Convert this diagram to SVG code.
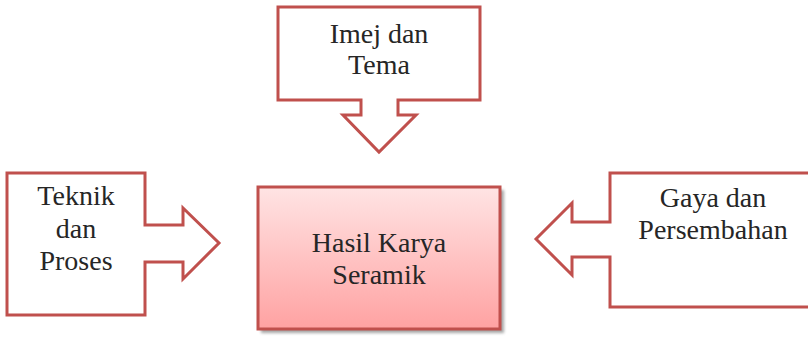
<svg xmlns="http://www.w3.org/2000/svg" width="808" height="339" viewBox="0 0 808 339">
  <style>
    .callout { fill: #ffffff; stroke: #c0504d; stroke-width: 3; stroke-linejoin: miter; }
    .lbl { font-family: "Liberation Serif", "Times New Roman", serif; font-size: 28px; fill: #262626; text-anchor: middle; }
  </style>
  <defs>
    <linearGradient id="redGrad" x1="0" y1="0" x2="0" y2="1">
      <stop offset="0" stop-color="#ffe4e4"/>
      <stop offset="1" stop-color="#ffa2a2"/>
    </linearGradient>
    <filter id="shadow" x="-10%" y="-10%" width="120%" height="120%">
      <feGaussianBlur stdDeviation="1.5"/>
    </filter>
  </defs>
  <rect width="808" height="339" fill="#ffffff"/>

  <g id="imej-dan-tema">
    <path class="callout" d="M278,7 H480 V100 H398 V115 H416 L379,152 L343,115 H361 V100 H278 Z"/>
    <text class="lbl" x="379" y="43">Imej dan</text>
    <text class="lbl" x="379" y="74">Tema</text>
  </g>

  <g id="teknik-dan-proses">
    <path class="callout" d="M7,173 H145 V225 H183 V208 L219,243 L183,279 V262 H145 V315 H7 Z"/>
    <text class="lbl" x="76" y="205">Teknik</text>
    <text class="lbl" x="76" y="238">dan</text>
    <text class="lbl" x="76" y="270">Proses</text>
  </g>

  <g id="gaya-dan-persembahan">
    <path class="callout" d="M812,173 H610 V222 H572 V203 L536,239 L572,275 V257 H610 V307 H812"/>
    <text class="lbl" x="713" y="207">Gaya dan</text>
    <text class="lbl" x="713" y="239">Persembahan</text>
  </g>

  <g id="hasil-karya-seramik">
    <rect x="261" y="190" width="243" height="143" fill="#a6a6a6" filter="url(#shadow)"/>
    <rect x="258" y="187" width="242" height="142" fill="url(#redGrad)" stroke="#c0504d" stroke-width="3"/>
    <text class="lbl" x="379" y="252">Hasil Karya</text>
    <text class="lbl" x="379" y="284">Seramik</text>
  </g>

  <g id="connectors"></g>
</svg>
